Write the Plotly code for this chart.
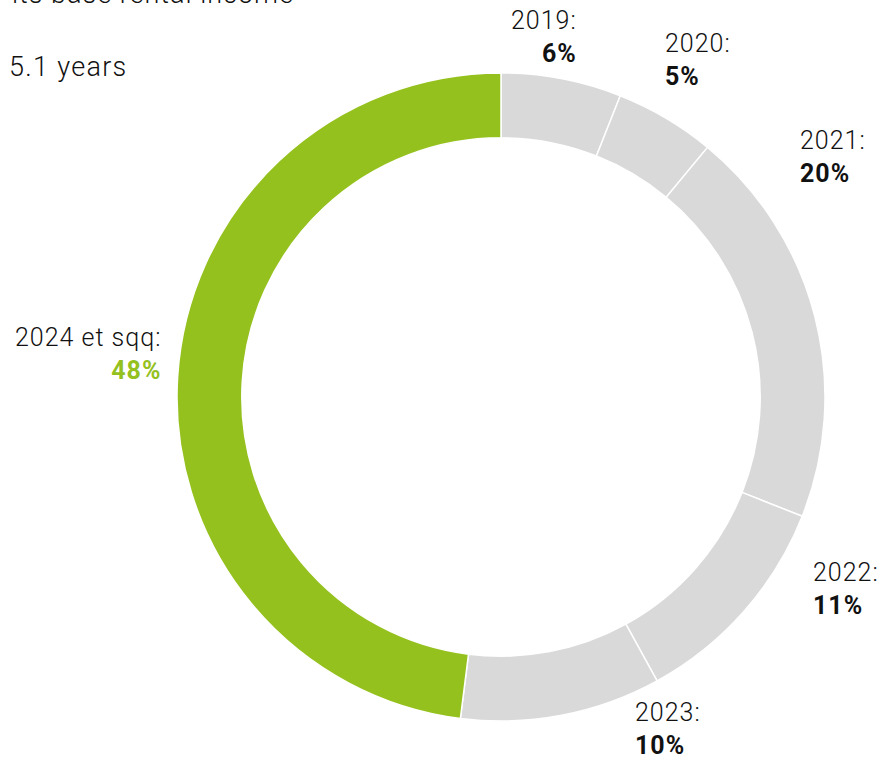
import plotly.graph_objects as go

# ---- data ----
years = ["2019", "2020", "2021", "2022", "2023", "2024 et sqq"]
shares = [6, 5, 20, 11, 10, 48]
slice_colors = ["#d9d9d9", "#d9d9d9", "#d9d9d9", "#d9d9d9", "#d9d9d9", "#95c11f"]
pct_colors = ["#111111", "#111111", "#111111", "#111111", "#111111", "#95c11f"]

W, H = 879, 759
cx, cy, R = 501, 397, 324

def px(x):
    return x / W

def py(y):
    return 1 - y / H

fig = go.Figure(go.Pie(
    labels=years,
    values=shares,
    sort=False,
    direction="clockwise",
    rotation=0,
    hole=0.8,
    marker=dict(colors=slice_colors, line=dict(color="white", width=1.5)),
    textinfo="none",
    hoverinfo="label+percent",
    showlegend=False,
    domain=dict(x=[px(cx - R), px(cx + R)], y=[py(cy + R), py(cy - R)]),
))

# label placement (pixel anchors): x, y-center, xanchor
label_pos = [
    (579, 37, "right"),
    (663, 60, "left"),
    (798, 157, "left"),
    (811, 589, "left"),
    (633, 729, "left"),
    (163, 354, "right"),
]

LS = "letter-spacing:1px"
annotations = []
for yr, s, pc, (lx, ly, xa) in zip(years, shares, pct_colors, label_pos):
    annotations.append(dict(
        x=px(lx), y=py(ly), xref="paper", yref="paper",
        xanchor=xa, yanchor="middle", align=xa, showarrow=False,
        text=(f"<span style='{LS}'>{yr}:</span><br>"
              f"<span style='color:{pc};{LS}'><b>{s}%</b></span>"),
        font=dict(family="Roboto", size=25, color="#111111", weight=300),
    ))

annotations.append(dict(
    x=px(296), y=py(-6), xref="paper", yref="paper",
    xanchor="right", yanchor="middle", showarrow=False,
    text=f"<span style='{LS}'>its base rental income</span>",
    font=dict(family="Roboto", size=27, color="#111111", weight=300),
))
annotations.append(dict(
    x=px(7), y=py(67), xref="paper", yref="paper",
    xanchor="left", yanchor="middle", showarrow=False,
    text=f"<span style='letter-spacing:1.3px'>5.1 years</span>",
    font=dict(family="Roboto", size=27, color="#111111", weight=300),
))

fig.update_layout(
    width=W, height=H,
    margin=dict(l=0, r=0, t=0, b=0),
    paper_bgcolor="white",
    plot_bgcolor="white",
    annotations=annotations,
)

fig.write_html("out.html")
